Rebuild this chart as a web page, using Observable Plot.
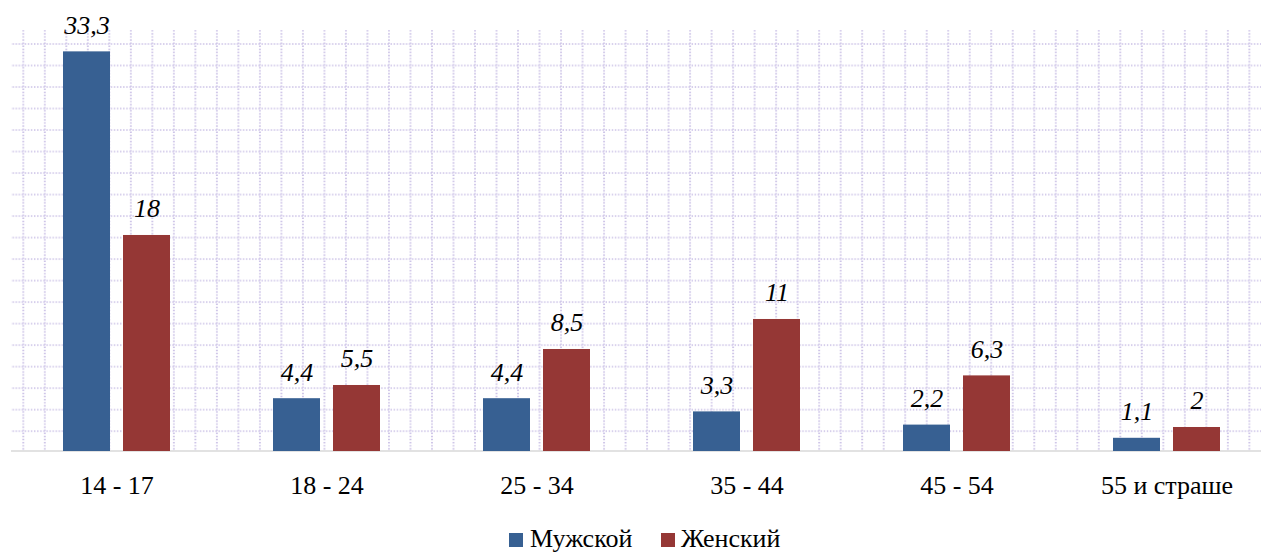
<!DOCTYPE html>
<html>
<head>
<meta charset="utf-8">
<script src="https://cdn.jsdelivr.net/npm/d3@7"></script>
<script src="https://cdn.jsdelivr.net/npm/@observablehq/plot@0.6"></script>
<style>
  body { margin: 0; background: #fff; font-family: "Liberation Serif", "Tinos", "Times New Roman", "DejaVu Serif", serif; }
  #legend { position: relative; height: 44px; width: 1261px; font-size: 26px; line-height: 26px; color: #000; }
  #legend .sw { position: absolute; width: 14px; height: 14px; }
  #legend .lb { position: absolute; white-space: nowrap; }
</style>
</head>
<body>
<div id="chart"></div>
<div id="legend"></div>
<script>
const categories = ["14 - 17", "18 - 24", "25 - 34", "35 - 44", "45 - 54", "55 и страше"];
const series = ["Мужской", "Женский"];
const male = [33.3, 4.4, 4.4, 3.3, 2.2, 1.1];
const female = [18, 5.5, 8.5, 11, 6.3, 2];
const colors = ["#376092", "#953735"];

const rows = categories.flatMap((c, i) => [
  {category: c, series: series[0], value: male[i]},
  {category: c, series: series[1], value: female[i]}
]);
const fmt = v => String(v).replace(".", ",");
const serif = "'Liberation Serif', 'Tinos', 'Times New Roman', 'DejaVu Serif', serif";

const W = 1261, H = 510;
const chart = Plot.plot({
  width: W,
  height: H,
  marginTop: 30,
  marginBottom: H - 451,
  marginLeft: 11,
  marginRight: 0,
  style: {fontFamily: serif, color: "#000", background: "transparent"},
  fx: {domain: categories, range: [10.6, 1273], paddingInner: 0.4914, paddingOuter: 0.2457, label: null},
  x: {domain: series, paddingInner: 0.2167, paddingOuter: 0, axis: null},
  y: {domain: [0, 35.08], axis: null},
  color: {domain: series, range: colors},
  marks: [
    Plot.barY(rows, {fx: "category", x: "series", y: "value", fill: "series"}),
    Plot.text(rows, {fx: "category", x: "series", y: "value", text: d => fmt(d.value),
      lineAnchor: "bottom", dy: -18, fontSize: 26, fontStyle: "italic", fill: "#000"}),
    Plot.axisFx({anchor: "bottom", tickSize: 0, tickPadding: 24, fontSize: 26, label: null, fill: "#000"})
  ]
});

// decorative dotted-grid background and baseline
const svg = d3.select(chart);
const yS = chart.scale("y");
const y0 = yS.apply(0), yTop = yS.apply(35.08);
const P = 21.51;
svg.insert("line", ":first-child")
  .attr("x1", 11).attr("x2", W).attr("y1", y0).attr("y2", y0)
  .attr("stroke", "#d9d9d9").attr("stroke-width", 1.6);
svg.insert("rect", ":first-child")
  .attr("x", 11).attr("y", yTop).attr("width", W - 11).attr("height", y0 - yTop)
  .attr("fill", "url(#dotgrid)");
const defs = svg.insert("defs", ":first-child");
const pat = defs.append("pattern").attr("id", "dotgrid")
  .attr("patternUnits", "userSpaceOnUse")
  .attr("width", P).attr("height", P)
  .attr("x", 23.3 - P / 2).attr("y", 44 - P / 2);
const dash = `${(P / 7) * 0.45} ${(P / 7) * 0.55}`;
pat.append("line").attr("x1", 0).attr("x2", P).attr("y1", P / 2).attr("y2", P / 2)
  .attr("stroke", "#c6bbe4").attr("stroke-width", 1.7).attr("stroke-dasharray", dash);
pat.append("line").attr("y1", 0).attr("y2", P).attr("x1", P / 2).attr("x2", P / 2)
  .attr("stroke", "#c6bbe4").attr("stroke-width", 1.7).attr("stroke-dasharray", dash);

document.getElementById("chart").appendChild(chart);

// legend
const legend = d3.select("#legend");
const items = [{x: 509, tx: 530}, {x: 661, tx: 681}];
series.forEach((s, i) => {
  legend.append("div").attr("class", "sw")
    .style("left", items[i].x + "px").style("top", "23px").style("background", colors[i]);
  legend.append("span").attr("class", "lb")
    .style("left", items[i].tx + "px").style("top", "16px").text(s);
});
</script>
</body>
</html>
